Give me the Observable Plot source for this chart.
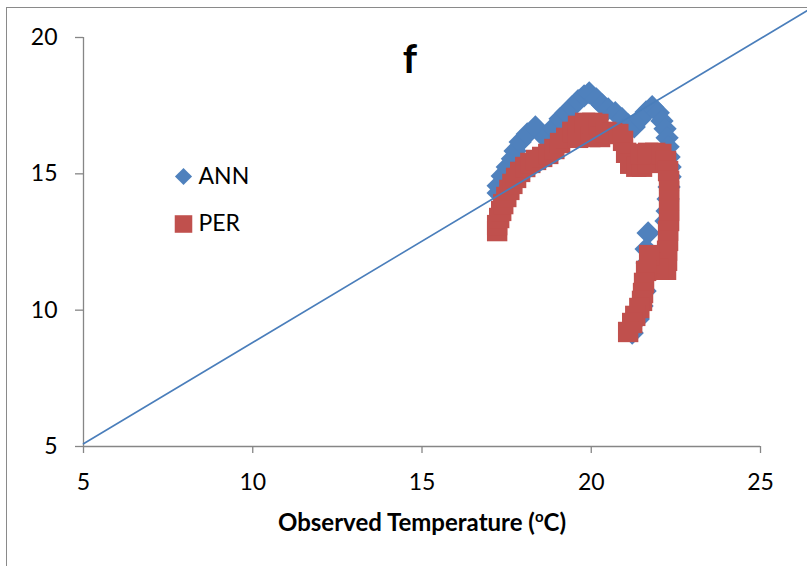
<!DOCTYPE html>
<html><head><meta charset="utf-8">
<script src="https://cdn.jsdelivr.net/npm/d3@7"></script>
<script src="https://cdn.jsdelivr.net/npm/@observablehq/plot@0.6"></script>
<style>
body{margin:0;background:#fff;}
#wrap{position:relative;width:807px;height:566px;overflow:hidden;background:#fff;}
#frame{position:absolute;left:6px;top:7px;width:820px;height:600px;border-top:1px solid #8a8a8a;border-left:1px solid #8a8a8a;pointer-events:none;}
#wrap svg{position:absolute;left:0;top:0;}
</style></head><body><div id="wrap"><div id="frame"></div></div>
<script>
// ANN (blue diamonds): observed vs simulated temperature
const annX = [17.25,17.25,17.37,17.52,17.67,17.75,17.90,18.11,18.35,18.64,18.88,19.08,19.26,19.44,19.61,19.79,19.94,20.15,20.32,20.50,20.71,20.91,21.09,21.27,21.45,21.62,21.80,21.98,22.09,22.18,22.24,22.27,22.30,22.33,22.33,22.30,22.27,22.24,22.21,21.68,21.62,21.65,21.62,21.59,21.50,21.39,21.21];
const annY = [14.30,14.56,14.92,15.25,15.55,15.84,16.17,16.46,16.72,16.32,16.69,17.02,17.24,17.46,17.68,17.86,17.97,17.75,17.53,17.38,17.24,17.02,16.79,16.72,17.02,17.27,17.46,17.24,16.94,16.65,16.32,15.99,15.62,15.25,14.89,14.52,14.08,13.64,13.27,12.83,12.24,11.73,11.22,10.70,10.15,9.68,9.16];
// PER (red squares)
const perX = [17.22,17.22,17.28,17.34,17.40,17.49,17.58,17.67,17.78,17.90,18.05,18.20,18.37,18.55,18.73,18.91,19.08,19.26,19.44,19.61,19.61,19.82,19.97,20.03,20.21,20.26,20.44,20.62,20.80,20.94,21.03,21.15,21.33,21.50,21.68,21.45,21.68,21.89,22.07,22.21,22.27,22.30,22.30,22.30,22.30,22.30,22.27,22.27,22.24,22.24,22.21,21.98,21.74,21.71,21.62,21.56,21.53,21.50,21.42,21.30,21.21,21.09];
const perY = [12.90,13.12,13.38,13.64,13.89,14.15,14.41,14.63,14.85,15.07,15.25,15.40,15.51,15.62,15.73,15.91,16.13,16.32,16.54,16.76,16.32,16.87,16.35,16.87,16.83,16.35,16.54,16.50,16.46,16.21,15.77,15.37,15.26,15.26,15.40,15.73,15.77,15.77,15.73,15.47,15.10,14.74,14.37,14.01,13.64,13.27,12.91,12.54,12.18,11.81,11.48,11.51,11.73,12.02,11.44,11.00,10.63,10.34,10.08,9.79,9.53,9.20];
// reference line
const lineX = [5, 26.4];
const lineY = [5.1, 21.0];
const xTicks = [5, 10, 15, 20, 25];
const yTicks = [5, 10, 15, 20];
const seriesNames = ["ANN", "PER"];
const panelLabel = "f";
const xLabelParts = ["Observed Temperature (", "o", "C)"];

const blue = "#4F81BD", red = "#C0504D", axisGray = "#868686";
const ann = annX.map((x, i) => ({x, y: annY[i]}));
const per = perX.map((x, i) => ({x, y: perY[i]}));
const refLine = lineX.map((x, i) => ({x, y: lineY[i]}));
const xLabel = xLabelParts.join("");

const chart = Plot.plot({
  width: 807, height: 566,
  marginLeft: 83, marginRight: 47, marginTop: 37, marginBottom: 120,
  x: {domain: [5, 25]},
  y: {domain: [5, 20]},
  style: {fontFamily: "Lato, 'Open Sans', sans-serif", fontSize: "23px", background: "transparent", overflow: "visible", color: "#000"},
  marks: [
    Plot.ruleY([5], {stroke: axisGray, strokeWidth: 1.3}),
    Plot.ruleX([5], {stroke: axisGray, strokeWidth: 1.3}),
    Plot.axisX({ticks: xTicks, tickSize: 7, tickPadding: 20, stroke: axisGray, strokeWidth: 1.3, fontSize: 23, label: null}),
    Plot.axisY({ticks: yTicks, tickSize: 8, tickPadding: 18, stroke: axisGray, strokeWidth: 1.3, fontSize: 23, label: null}),
    Plot.dot(ann, {x: "x", y: "y", symbol: "diamond2", r: 10.5, fill: blue, stroke: "none"}),
    Plot.dot(per, {x: "x", y: "y", symbol: "square", r: 11.5, fill: red, stroke: "none"}),
    Plot.line(refLine, {x: "x", y: "y", stroke: "#4A7EBB", strokeWidth: 1.6, clip: false}),
    Plot.text([panelLabel], {frameAnchor: "top", dx: -12, dy: 35, lineAnchor: "bottom", text: d => d, fontSize: 40, fontWeight: "bold"}),
    Plot.dot([seriesNames[0]], {frameAnchor: "top-left", dx: 100, dy: 139, symbol: "diamond2", r: 7.7, fill: blue, stroke: "none"}),
    Plot.text([seriesNames[0]], {frameAnchor: "top-left", dx: 115, dy: 139, lineAnchor: "middle", text: d => d, textAnchor: "start", fontSize: 23}),
    Plot.dot([seriesNames[1]], {frameAnchor: "top-left", dx: 100, dy: 186.5, symbol: "square", r: 9.9, fill: red, stroke: "none"}),
    Plot.text([seriesNames[1]], {frameAnchor: "top-left", dx: 115, dy: 186.5, lineAnchor: "middle", text: d => d, textAnchor: "start", fontSize: 23}),
    Plot.text([xLabel], {frameAnchor: "bottom", dy: 84, lineAnchor: "bottom", text: d => d, fontSize: 24, fontWeight: "bold"})
  ]
});
document.getElementById("wrap").appendChild(chart);

// superscript "o" in the axis label
d3.select(chart).selectAll("text").filter(function() { return this.textContent === xLabel; }).each(function() {
  const t = d3.select(this);
  t.text(null);
  t.append("tspan").text(xLabelParts[0]);
  t.append("tspan").attr("baseline-shift", "super").attr("font-size", "15px").text(xLabelParts[1]);
  t.append("tspan").text(xLabelParts[2]);
});
</script>
</body></html>
